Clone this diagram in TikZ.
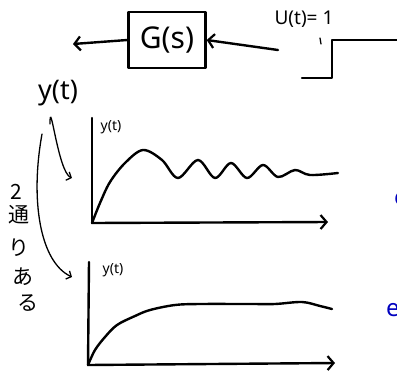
\documentclass[tikz,border=0pt]{standalone}
\usepackage{fontspec}
\setmainfont{Noto Sans}
\newfontfamily\jpfont{Noto Sans CJK JP}
\usetikzlibrary{arrows.meta}

\tikzset{
  pen/.style={line width=2.4pt, line cap=round, line join=round},
  thinpen/.style={line width=1.3pt, line cap=round},
  barb/.style={-{Straight Barb[length=6pt,width=14pt,line width=2.2pt]}},
  smallbarb/.style={-{Straight Barb[length=4pt,width=9pt,line width=1.3pt]}},
  jp/.style={font=\jpfont\fontsize{21}{21}\selectfont},
  axlabel/.style={font=\fontsize{14}{14}\selectfont, inner sep=0pt},
  note/.style={text=blue!75!black, font=\fontsize{24}{24}\selectfont, inner sep=0pt},
}

\begin{document}
\begin{tikzpicture}[x=1pt, y=-1pt]
  \useasboundingbox (0,0) rectangle (397,376);

  % block G(s) with input step and output
  \node[pen, draw, minimum width=77pt, minimum height=56pt, inner sep=0pt,
        font=\fontsize{30}{30}\selectfont] (G) at (167,40) {G(s)};
  \coordinate (yout) at (73,44);
  \coordinate (uin) at (278,50);
  \draw[pen, barb] (G.west) -- (yout);
  \draw[pen, barb] (uin) -- (G.east);
  \node[font=\fontsize{19}{19}\selectfont, inner sep=0pt] (ulabel) at (304,19) {U(t)= 1};
  \draw[thinpen] (320,38) -- (321,44);
  \draw[pen] (302,78) -- (332,78) -- (332,40) -- (397,40);

  % output label and the two arrows
  \node[font=\fontsize{27}{27}\selectfont, inner sep=0pt] (ylab) at (58,93) {y(t)};
  \coordinate (tip1) at (72,178);
  \coordinate (tip2) at (72,277);
  \draw[thinpen, smallbarb] ([xshift=-8pt, yshift=-18pt]ylab.south)
    .. controls +(0,-30) and (58,172) .. (tip1);
  \draw[thinpen, smallbarb] ([xshift=-16pt, yshift=-28pt]ylab.south)
    .. controls (30,200) and (40,262) .. (tip2);

  % 2 ways
  \node[jp] (n2) at (16,192) {2};
  \node[jp] (j1) at (19,215) {通};
  \node[jp] (j2) at (19,248) {り};
  \node[jp] (j3) at (23,277) {あ};
  \node[jp] (j4) at (28,303) {る};

  % upper graph: oscillating response
  \coordinate (o1) at (92,223);
  \coordinate (ytop1) at (92,118);
  \coordinate (xend1) at (328,222);
  \draw[pen] (ytop1) -- (o1);
  \draw[pen, barb] (o1) -- (xend1);
  \node[axlabel] (y1) at (111,127) {y(t)};
  \draw[pen] plot[smooth, tension=0.55] coordinates {(92,223) (100,203) (110,182)
    (125,163) (143,150) (162,160) (178,178) (198,160) (215,178) (231,163)
    (247,178) (263,165) (278,177) (295,170) (310,175) (338,173)};

  % lower graph: smooth response
  \coordinate (o2) at (88,365);
  \coordinate (ytop2) at (89,262);
  \coordinate (xend2) at (335,363);
  \draw[pen] (ytop2) -- (o2);
  \draw[pen, barb] (o2) -- (xend2);
  \node[axlabel] (y2) at (113,270) {y(t)};
  \draw[pen] plot[smooth, tension=0.55] coordinates {(88,365) (95,350) (105,337)
    (117,325) (135,316) (150,310) (175,305) (200,304) (250,304) (275,304)
    (302,302) (320,306) (332,309)};

  % blue notes cut at the right edge
  \node[note] (b1) at (401,199) {e};
  \node[note] (b2) at (393,310) {e};
\end{tikzpicture}
\end{document}
